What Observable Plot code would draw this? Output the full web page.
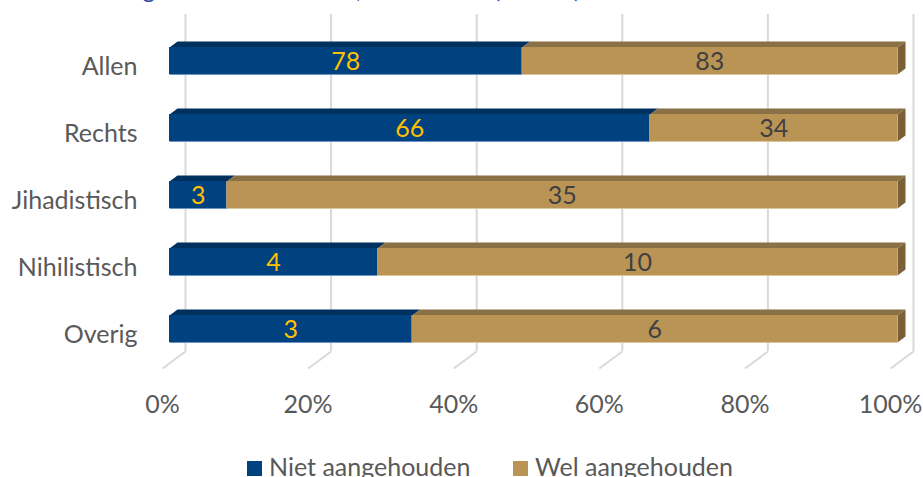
<!DOCTYPE html>
<html>
<head>
<meta charset="utf-8">
<script src="https://cdn.jsdelivr.net/npm/d3@7"></script>
<script src="https://cdn.jsdelivr.net/npm/@observablehq/plot@0.6"></script>
<style>
  html, body { margin: 0; padding: 0; background: #fff; }
  body { position: relative; width: 923px; height: 477px; overflow: hidden; font-family: Lato, "Noto Sans", sans-serif; }
  #title { position: absolute; left: 28px; top: -26px; font-size: 24px; line-height: 30px; color: #2F4B9B; white-space: nowrap; }
  #chart { position: absolute; left: 0; top: 0; }
  #legend { position: absolute; top: 451px; left: 0; width: 923px; height: 30px; font-size: 25px; line-height: 30px; color: #595959; white-space: nowrap; }
  .item { position: absolute; top: 0; }
  .sw { display: inline-block; width: 15px; height: 15px; margin-right: 7px; }
</style>
</head>
<body>
<div id="chart"></div>
<div id="title"></div>
<div id="legend"></div>
<script>
// ---- data ----
const titleText = "Aanhoudingen na terreurdaden, naar motief (N=161)";
const categories = ["Allen", "Rechts", "Jihadistisch", "Nihilistisch", "Overig"];
const nietAangehouden = [78, 66, 3, 4, 3];
const welAangehouden = [83, 34, 35, 10, 6];
const seriesNames = ["Niet aangehouden", "Wel aangehouden"];
const xTicks = [0, 0.2, 0.4, 0.6, 0.8, 1];

// ---- styling / layout ----
const frontColors = ["#00417F", "#BA9455"];
const topColors = ["#00305E", "#8A7045"];
const edgeColors = ["#6E95C6", "#DCC69E"];
const sideColor = "#7A5F37";
const labelColors = ["#FFC000", "#404040"];
const gridColor = "#D9D9D9";

const W = 923, H = 440;
const xRange = [169, 897];
const yRange = [60.5, 328.5];
const pxPerX = xRange[1] - xRange[0];
const pxPerY = (yRange[1] - yRange[0]) / (categories.length - 1);
const ux = px => px / pxPerX;
const uy = px => px / pxPerY;
const yAt = px => (px - yRange[0]) / pxPerY;

const half = uy(13.5), depX = ux(8), depY = uy(6);
const gridTop = yAt(14), backBottom = yAt(351), frontFloor = yAt(368);
const backDx = ux(16), frontDx = ux(-7);

// ---- derived table ----
const segs = [];
categories.forEach((c, i) => {
  const tot = nietAangehouden[i] + welAangehouden[i];
  const p = nietAangehouden[i] / tot;
  segs.push({i, s: 0, x1: 0, x2: p, n: nietAangehouden[i]});
  segs.push({i, s: 1, x1: p, x2: 1, n: welAangehouden[i]});
});

const topPolys = [], sidePolys = [];
segs.forEach((d, k) => {
  const yF = d.i - half, yB = d.i - half - depY;
  [[d.x1, yF], [d.x2, yF], [d.x2 + depX, yB], [d.x1 + depX, yB]].forEach(([x, y]) =>
    topPolys.push({x, y, z: k, fill: topColors[d.s]}));
  if (d.s === 1) {
    [[d.x2, yF], [d.x2 + depX, yB], [d.x2 + depX, d.i + half - depY], [d.x2, d.i + half]].forEach(([x, y]) =>
      sidePolys.push({x, y, z: k, fill: sideColor}));
  }
});

const chart = Plot.plot({
  width: W,
  height: H,
  marginLeft: xRange[0],
  marginRight: W - xRange[1],
  marginTop: 0,
  marginBottom: 60,
  style: {fontFamily: "Lato, 'Noto Sans', sans-serif", color: "#595959", background: "transparent", overflow: "visible"},
  x: {domain: [0, 1], range: xRange},
  y: {domain: [0, categories.length - 1], range: yRange},
  color: {type: "identity"},
  marks: [
    Plot.ruleX(xTicks, {x: d => d + backDx, y1: gridTop, y2: backBottom, stroke: gridColor, strokeWidth: 2}),
    Plot.link(xTicks, {x1: d => d + backDx, y1: backBottom, x2: d => d + frontDx, y2: frontFloor, stroke: gridColor, strokeWidth: 2}),
    Plot.line(topPolys, {x: "x", y: "y", z: "z", fill: "fill", stroke: "none"}),
    Plot.line(sidePolys, {x: "x", y: "y", z: "z", fill: "fill", stroke: "none"}),
    Plot.rect(segs, {x1: "x1", x2: "x2", y1: d => d.i - half, y2: d => d.i + half, fill: d => frontColors[d.s]}),
    Plot.link(segs, {x1: "x1", x2: "x2", y1: d => d.i + half, y2: d => d.i + half, stroke: d => edgeColors[d.s], strokeWidth: 1.2}),
    Plot.text(segs, {x: d => (d.x1 + d.x2) / 2, y: "i", text: "n", fill: d => labelColors[d.s], fontSize: 25, dy: 1}),
    Plot.axisY({ticks: categories.map((c, i) => i), tickFormat: i => categories[i], tickSize: 0, tickPadding: 32, dy: 6, fontSize: 25, label: null}),
    Plot.axisX({ticks: xTicks, tickFormat: d3.format(".0%"), tickSize: 0, tickPadding: 15, dx: -7, fontSize: 25, label: null})
  ]
});
document.getElementById("chart").appendChild(chart);
document.getElementById("title").textContent = titleText;

const legend = document.getElementById("legend");
const legendLeft = [247, 513];
seriesNames.forEach((name, k) => {
  const item = document.createElement("span");
  item.className = "item";
  item.style.left = legendLeft[k] + "px";
  const sw = document.createElement("span");
  sw.className = "sw";
  sw.style.background = frontColors[k];
  item.appendChild(sw);
  item.appendChild(document.createTextNode(name));
  legend.appendChild(item);
});
</script>
</body>
</html>
